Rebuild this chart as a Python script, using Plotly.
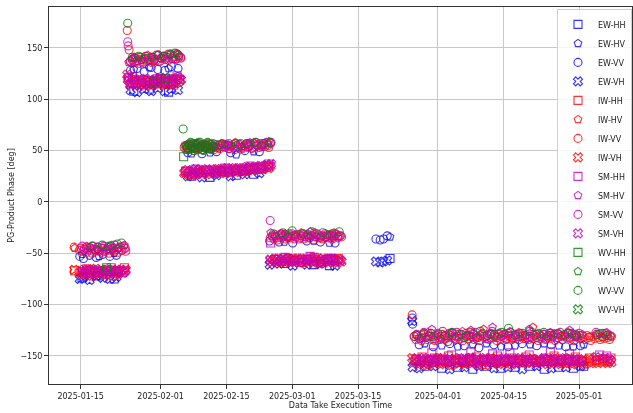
import numpy as np
import pandas as pd
import plotly.graph_objects as go

# Acquisition times are given as fractional day-of-year in 2025.
# Each dual-pol data take yields a co-pol and a cross-pol phase value.

# ---------------- EW ----------------
EW_VVVH_T = [14.8, 15.6, 16.9, 18.3, 19.7, 21.2, 22.6,
             25.6, 27.0, 28.5, 30.0, 31.4, 32.9, 34.3, 35.7,
             37.8, 40.8, 43.9, 46.9, 49.9, 53.0,
             55.2, 57.2, 60.1, 63.1, 66.0, 69.1,
             77.8, 78.7, 79.4, 80.2,
             85.5, 85.6, 87.0, 90.0, 93.5, 96.6, 99.7, 102.9, 105.9, 108.9, 112.0, 115.1, 118.2, 121.3]
EW_VV = [-53, -55, -52, -54, -51, -53, -52,
         128, 130, 127, 131, 129, 128, 132, 130,
         48, 47, 49, 48, 50, 49,
         -38, -39, -40, -38, -39, -40,
         -36, -37, -36, -33,
         -113, -119, -139, -141, -138, -140, -142, -139, -141, -138, -140, -139, -141, -140]
EW_VH = [-75, -73, -76, -72, -74, -75, -73,
         109, 107, 110, 108, 111, 108, 110, 109,
         25, 24, 26, 25, 27, 28,
         -61, -60, -62, -61, -60, -62,
         -58, -59, -58, -57,
         -116, -161, -162, -160, -163, -161, -160, -162, -161, -163, -160, -162, -161, -160]

EW_HHHV_T = [15.3, 18.9, 22.1,
             26.3, 29.6, 33.7,
             38.6, 42.5, 48.1, 51.8,
             58.3, 64.6, 67.9,
             80.8,
             88.2, 91.8, 95.2, 98.4, 101.3, 104.4, 107.4, 110.6, 113.6, 116.7, 119.8, 122.0]
EW_HH = [-74, -72, -75,
         108, 110, 107,
         25, 24, 26, 27,
         -60, -61, -62,
         -55,
         -160, -162, -161, -163, -160, -162, -161, -160, -163, -161, -162, -160]
EW_HV = [-51, -53, -50,
         129, 131, 130,
         47, 48, 46, 49,
         -39, -38, -40,
         -34,
         -138, -140, -141, -139, -138, -141, -140, -139, -138, -140, -141, -139]

# ---------------- IW ----------------
IW_VVVH_T = [
    # January campaign
    13.6, 14.7, 15.0, 15.5, 15.8, 16.3, 16.6, 17.1, 17.4, 17.9,
    18.2, 18.7, 19.0, 19.5, 19.8, 20.3, 20.6, 21.1, 21.4, 21.9,
    22.2, 22.7, 23.0, 23.5, 23.8, 24.3, 24.6,
    # late January / early February
    24.9, 25.3, 25.6, 26.0, 26.4, 26.7, 27.1, 27.5, 27.8, 28.2,
    28.6, 28.9, 29.3, 29.7, 30.0, 30.4, 30.8, 31.1, 31.5, 31.9,
    32.2, 32.6, 33.0, 33.3, 33.7, 34.1, 34.4, 34.8, 35.2, 35.5,
    35.9, 36.3,
    # February
    37.0, 37.4, 37.8, 38.2, 38.6, 39.0, 39.4, 39.8, 40.2, 40.6,
    41.0, 41.4, 41.8, 42.2, 42.6, 43.0, 43.4, 43.8, 44.2, 44.6,
    45.0, 45.4, 45.8, 46.2, 46.6, 47.0, 47.4, 47.8, 48.2, 48.6,
    49.0, 49.4, 49.8, 50.2, 50.6, 51.0, 51.4, 51.8, 52.2, 52.6,
    53.0, 53.4, 53.8, 54.2, 54.6, 55.0, 55.4,
    # late February / March
    55.3, 55.7, 56.1, 56.5, 56.9, 57.3, 57.7, 58.1, 58.5, 58.9,
    59.3, 59.7, 60.1, 60.5, 60.9, 61.3, 61.7, 62.1, 62.5, 62.9,
    63.3, 63.7, 64.1, 64.5, 64.9, 65.3, 65.7, 66.1, 66.5, 66.9,
    67.3, 67.7, 68.1, 68.5, 68.9, 69.3, 69.7, 70.1, 70.5,
    # late March - May
    85.5, 85.9, 86.3, 86.7, 87.1, 87.5, 87.9, 88.3, 88.7, 89.1,
    89.5, 89.9, 90.3, 90.7, 91.1, 91.5, 91.9, 92.3, 92.7, 93.1,
    93.5, 93.9, 94.3, 94.7, 95.1, 95.5, 95.9, 96.3, 96.7, 97.1,
    97.5, 97.9, 98.3, 98.7, 99.1, 99.5, 99.9, 100.3, 100.7, 101.1,
    101.5, 101.9, 102.3, 102.7, 103.1, 103.5, 103.9, 104.3, 104.7, 105.1,
    105.5, 105.9, 106.3, 106.7, 107.1, 107.5, 107.9, 108.3, 108.7, 109.1,
    109.5, 109.9, 110.3, 110.7, 111.1, 111.5, 111.9, 112.3, 112.7, 113.1,
    113.5, 113.9, 114.3, 114.7, 115.1, 115.5, 115.9, 116.3, 116.7, 117.1,
    117.5, 117.9, 118.3, 118.7, 119.1, 119.5, 119.9, 120.3, 120.7, 121.1,
    121.5, 121.9, 122.3, 122.7, 123.1, 123.5, 123.9, 124.3, 124.7, 125.1,
    125.5, 125.9, 126.3, 126.7, 127.1, 127.5, 127.9]
IW_VV = [
    -44, -47, -45, -48, -46, -49, -45, -47, -50, -46,
    -48, -44, -47, -49, -45, -48, -46, -50, -47, -45,
    -48, -46, -49, -44, -47, -45, -48,
    167, 148, 137, 139, 136, 140, 138, 135, 141, 137,
    139, 142, 138, 140, 136, 141, 139, 138, 143, 137,
    140, 142, 139, 141, 138, 143, 140, 142, 139, 144,
    141, 140,
    53, 51, 55, 52, 54, 50, 53, 56, 52, 54,
    51, 55, 53, 52, 56, 54, 51, 53, 55, 52,
    54, 56, 53, 55, 52, 54, 56, 51, 55, 53,
    57, 52, 54, 56, 53, 55, 52, 57, 54, 56,
    53, 55, 57, 54, 56, 53, 57,
    -35, -33, -36, -34, -37, -32, -35, -33, -36, -34,
    -31, -35, -33, -36, -34, -32, -35, -33, -36, -34,
    -32, -35, -33, -37, -34, -31, -35, -33, -36, -34,
    -32, -35, -33, -36, -34, -32, -35, -33, -34,
    -110, -131, -134, -130, -133, -135, -129, -132, -134, -131,
    -128, -133, -135, -130, -132, -134, -129, -131, -133, -136,
    -130, -132, -128, -134, -131, -133, -129, -135, -132, -130,
    -133, -127, -131, -134, -130, -132, -135, -129, -131, -133,
    -130, -134, -128, -132, -131, -135, -129, -133, -130, -132,
    -134, -128, -131, -133, -130, -132, -129, -134, -131, -133,
    -130, -132, -134, -131, -133, -130, -132, -135, -131, -133,
    -129, -134, -131, -128, -133, -130, -135, -132, -129, -131,
    -134, -130, -132, -128, -133, -131, -135, -129, -132, -130,
    -133, -131, -134, -130, -132, -135, -131, -133, -129, -132,
    -134, -131, -133, -130, -132, -134, -131]
IW_VH = [
    -66, -69, -67, -71, -68, -66, -70, -67, -72, -68,
    -65, -69, -67, -70, -68, -71, -66, -69, -67, -72,
    -68, -66, -70, -67, -69, -68, -66,
    124, 118, 114, 117, 120, 115, 118, 113, 116, 119,
    114, 117, 115, 118, 113, 116, 119, 117, 115, 120,
    116, 118, 114, 119, 117, 115, 120, 116, 118, 121,
    117, 119,
    28, 30, 27, 29, 26, 30, 28, 27, 31, 29,
    28, 30, 27, 31, 29, 30, 28, 32, 30, 31,
    29, 31, 28, 32, 30, 29, 31, 33, 30, 32,
    31, 29, 33, 31, 32, 34, 31, 33, 32, 34,
    33, 35, 32, 34, 36, 33, 35,
    -57, -59, -56, -58, -55, -60, -57, -56, -59, -57,
    -55, -58, -56, -59, -57, -55, -58, -56, -59, -57,
    -56, -58, -55, -59, -57, -56, -60, -57, -55, -58,
    -56, -59, -57, -55, -58, -56, -59, -57, -58,
    -152, -156, -154, -158, -155, -153, -157, -155, -159, -154,
    -156, -153, -157, -155, -152, -158, -156, -154, -157, -155,
    -153, -159, -156, -154, -155, -157, -153, -156, -158, -154,
    -155, -152, -157, -156, -154, -158, -155, -153, -156, -159,
    -154, -156, -152, -157, -155, -153, -158, -156, -154, -157,
    -155, -153, -156, -158, -154, -155, -157, -153, -156, -154,
    -155, -157, -154, -156, -153, -155, -157, -154, -156, -155,
    -153, -156, -158, -154, -157, -155, -152, -156, -154, -158,
    -155, -157, -153, -156, -154, -158, -155, -153, -157, -155,
    -156, -154, -158, -155, -153, -157, -156, -154, -155, -157,
    -154, -156, -153, -155, -157, -154, -156]

IW_HHHV_T = [13.7, 16.3, 18.5, 20.8, 23.0, 24.3,
             25.2, 26.5, 27.9, 29.3, 30.6, 32.0, 33.4, 34.8, 36.0,
             37.3, 38.8, 40.1, 41.6, 43.6, 45.0, 46.4, 47.9, 49.3, 50.7, 52.0, 53.5, 54.9,
             56.3, 57.7, 59.1, 60.5, 61.9, 63.3, 64.7, 66.1, 67.5, 68.9, 69.8,
             86.3, 87.6, 88.9, 90.3, 91.7, 93.2, 94.7, 96.2, 97.7, 99.2,
             100.7, 102.2, 103.7, 105.2, 106.7, 108.2, 109.7, 111.2, 112.7, 114.2,
             115.7, 117.2, 118.7, 120.2, 121.7, 123.2, 124.7, 126.0, 127.1, 127.8]
IW_HH = [-67, -65, -69, -66, -68, -64,
         121, 119, 116, 118, 115, 120, 117, 114, 119,
         30, 27, 29, 31, 28, 30, 29, 31, 30, 32, 33, 32, 34,
         -56, -58, -55, -57, -59, -56, -54, -58, -56, -57, -55,
         -153, -151, -155, -152, -154, -150, -153, -156, -152, -151,
         -154, -153, -150, -155, -152, -154, -151, -153, -155, -152,
         -150, -154, -153, -151, -155, -152, -154, -153, -155, -152]
IW_HV = [-45, -43, -46, -44, -45, -42,
         136, 141, 138, 143, 137, 140, 144, 139, 142,
         55, 57, 53, 56, 54, 57, 55, 58, 54, 56, 57, 55, 57,
         -33, -31, -34, -32, -30, -33, -31, -34, -32, -30, -33,
         -129, -132, -127, -130, -133, -128, -131, -126, -130, -132,
         -124, -129, -131, -128, -133, -127, -130, -122, -129, -131,
         -128, -130, -127, -132, -129, -131, -130, -132, -129, -131]

# ---------------- SM ----------------
SM_VVVH_T = [
    15.3, 15.7, 16.2, 16.6, 17.1, 17.6, 18.0, 18.5, 19.0, 19.4,
    19.9, 20.4, 20.8, 21.3, 21.8, 22.2, 22.7, 23.2, 23.6, 24.1,
    24.5,
    25.0, 25.1, 25.5, 26.0, 26.5, 26.9, 27.4, 27.9, 28.3, 28.8,
    29.3, 29.7, 30.2, 30.7, 31.1, 31.6, 32.1, 32.5, 33.0, 33.5,
    33.9, 34.4, 34.9, 35.3, 35.8, 36.3,
    37.2, 37.7, 38.1, 38.6, 39.1, 39.5, 40.0, 40.5, 40.9, 41.4,
    41.9, 42.3, 42.8, 43.3, 43.7, 44.2, 44.7, 45.1, 45.6, 46.1,
    46.5, 47.0, 47.5, 47.9, 48.4, 48.9, 49.3, 49.8, 50.3, 50.7,
    51.2, 51.7, 52.1, 52.6, 53.1, 53.5, 54.0, 54.5, 54.9, 55.5,
    55.3, 55.8, 56.3, 56.7, 57.2, 57.7, 58.1, 58.6, 59.1, 59.5,
    60.0, 60.5, 60.9, 61.4, 61.9, 62.3, 62.8, 63.3, 63.7, 64.2,
    64.7, 65.1, 65.6, 66.1, 66.5, 67.0, 67.5, 67.9, 68.4, 68.9,
    69.3, 69.8, 70.3,
    86.0, 86.5, 87.0, 87.5, 88.0, 88.5, 89.0, 89.5, 90.0, 90.5,
    91.0, 91.5, 92.0, 92.5, 93.0, 93.5, 94.0, 94.5, 95.0, 95.5,
    96.0, 96.5, 97.0, 97.5, 98.0, 98.5, 99.0, 99.5, 100.0, 100.5,
    101.0, 101.5, 102.0, 102.5, 103.0, 103.5, 104.0, 104.5, 105.0, 105.5,
    106.0, 106.5, 107.0, 107.5, 108.0, 108.5, 109.0, 109.5, 110.0, 110.5,
    111.0, 111.5, 112.0, 112.5, 113.0, 113.5, 114.0, 114.5, 115.0, 115.5,
    116.0, 116.5, 117.0, 117.5, 118.0, 118.5, 119.0, 119.5, 120.0, 120.5,
    121.0, 121.5, 124.6, 126.6, 127.6]
SM_VV = [
    -43, -46, -44, -47, -45, -43, -46, -44, -48, -45,
    -43, -47, -44, -46, -45, -42, -46, -44, -47, -43,
    -45,
    156, 152, 137, 138, 140, 137, 141, 139, 136, 142,
    140, 138, 141, 139, 143, 137, 140, 142, 139, 141,
    144, 140, 142, 139, 143, 141,
    55, 53, 56, 54, 52, 55, 57, 54, 56, 53,
    55, 57, 52, 54, 56, 53, 55, 57, 54, 56,
    52, 55, 53, 57, 54, 56, 53, 55, 57, 54,
    56, 53, 58, 55, 57, 54, 56, 58, 55, 58,
    -18, -34, -32, -35, -33, -31, -34, -32, -35, -33,
    -31, -34, -32, -36, -33, -31, -34, -32, -35, -33,
    -30, -34, -32, -35, -33, -31, -34, -32, -35, -33,
    -31, -34, -33,
    -131, -129, -133, -130, -127, -132, -130, -128, -131, -133,
    -129, -131, -126, -130, -132, -128, -130, -133, -127, -131,
    -129, -132, -128, -130, -131, -129, -127, -132, -130, -128,
    -131, -133, -129, -126, -130, -132, -128, -131, -129, -133,
    -130, -127, -132, -129, -131, -128, -130, -133, -129, -131,
    -127, -130, -132, -128, -131, -129, -133, -130, -128, -131,
    -129, -132, -127, -130, -131, -128, -132, -129, -130, -131,
    -128, -130, -127, -128, -130]
SM_VH = [
    -68, -66, -70, -67, -69, -66, -68, -67, -70, -66,
    -69, -67, -68, -70, -66, -69, -67, -68, -66, -69,
    -67,
    119, 121, 115, 116, 118, 115, 119, 117, 114, 120,
    116, 118, 115, 119, 117, 120, 116, 118, 121, 117,
    119, 116, 120, 118, 121, 119,
    29, 31, 28, 30, 27, 32, 29, 31, 28, 30,
    32, 29, 31, 30, 28, 32, 30, 31, 29, 33,
    31, 30, 32, 29, 33, 31, 32, 30, 34, 32,
    33, 31, 34, 32, 35, 33, 34, 36, 35, 37,
    -56, -58, -55, -57, -56, -58, -55, -57, -56, -58,
    -55, -57, -56, -59, -55, -57, -56, -58, -55, -57,
    -56, -58, -55, -57, -59, -56, -58, -55, -57, -56,
    -58, -56, -57,
    -155, -153, -156, -154, -152, -155, -157, -153, -154, -156,
    -153, -155, -152, -156, -154, -153, -155, -157, -154, -152,
    -155, -153, -156, -154, -152, -155, -157, -153, -154, -156,
    -152, -155, -153, -157, -154, -156, -153, -155, -152, -154,
    -156, -153, -155, -157, -154, -152, -155, -153, -156, -154,
    -153, -155, -157, -154, -156, -152, -155, -153, -154, -156,
    -155, -153, -156, -154, -152, -155, -153, -156, -154, -155,
    -153, -155, -151, -152, -154]

SM_HHHV_T = [17.0, 21.5,
             26.0, 31.3, 35.5,
             39.5, 45.7, 51.0, 55.0,
             55.4, 58.5, 63.8, 68.3,
             89.7, 93.9, 98.0, 102.6, 106.3, 110.4, 114.9, 119.0, 125.4, 126.9]
SM_HH = [-66, -64,
         122, 120, 123,
         32, 33, 35, 37,
         -40, -54, -53, -55,
         -147, -149, -146, -148, -147, -149, -146, -148, -149, -150]
SM_HV = [-44, -42,
         140, 143, 145,
         57, 56, 58, 59,
         -30, -31, -29, -32,
         -124, -127, -125, -122, -126, -124, -127, -125, -128, -127]

# ---------------- WV ----------------
WV_VV_T = [17.4, 19.6, 21.1, 22.8, 23.7,
           25.0, 26.0, 27.3, 28.6, 30.1, 31.5, 32.8, 34.2, 35.0, 35.7,
           36.8, 37.5, 37.6, 37.7, 37.9, 38.0, 38.1, 38.3, 38.4, 38.5,
           38.7, 38.8, 38.9, 39.1, 39.2, 39.3, 39.5, 39.6, 39.7, 39.9,
           40.0, 40.1, 40.3, 40.4, 40.5, 40.7, 40.8, 40.9, 41.1, 41.2,
           41.3, 41.5, 41.6, 41.7, 41.9, 42.0, 42.1, 42.3, 42.4, 42.5,
           42.7, 42.8, 42.9, 43.1, 43.3,
           44.5, 46.5, 48.5, 50.4, 52.3, 54.0, 55.3,
           56.0, 58.0, 60.0, 62.3, 64.2, 66.5, 68.4, 70.0,
           86.5, 88.0, 89.5, 91.0, 92.5, 94.0, 95.5, 97.0, 98.5, 100.0,
           101.5, 103.0, 104.5, 106.0, 107.5, 109.0, 110.5, 112.0, 113.5, 115.0,
           116.5, 118.0, 119.5, 120.5, 125.0, 126.0, 127.0]
WV_VV = [-43, -42, -43, -41, -40,
         174, 141, 142, 140, 141, 143, 142, 144, 145, 143,
         71, 55, 53, 52, 56, 51, 57, 55, 58, 53,
         52, 54, 56, 57, 50, 52, 55, 53, 55, 57,
         51, 58, 55, 58, 54, 53, 56, 51, 50, 54,
         56, 57, 52, 53, 55, 58, 55, 53, 56, 52,
         51, 54, 56, 57, 54,
         56, 57, 56, 57, 58, 57, 58,
         -31, -30, -28, -31, -29, -30, -31, -29,
         -130, -128, -131, -128, -130, -127, -129, -131, -128, -126,
         -130, -129, -127, -123, -130, -128, -126, -129, -127, -130,
         -128, -129, -128, -130, -129, -128, -130]

WV_HH_T = [20.5, 30.5, 33.0, 36.9]
WV_HH = [-64, 117, 120, 44]

# Axis ticks
X_TICKS = ["2025-01-15", "2025-02-01", "2025-02-15", "2025-03-01",
           "2025-03-15", "2025-04-01", "2025-04-15", "2025-05-01"]
Y_TICKS = [-150, -100, -50, 0, 50, 100, 150]


def to_dates(doy):
    return pd.Timestamp("2025-01-01") + pd.to_timedelta(np.asarray(doy, dtype=float) - 1.0, unit="D")


COLORS = {"EW": "#0000ff", "IW": "#ff0000", "SM": "#bf00bf", "WV": "#008000"}
SYMBOLS = {"HH": "square-open", "HV": "pentagon-open", "VV": "circle-open", "VH": "x-open"}

SERIES = [
    ("EW", "HH", EW_HHHV_T, EW_HH), ("EW", "HV", EW_HHHV_T, EW_HV),
    ("EW", "VV", EW_VVVH_T, EW_VV), ("EW", "VH", EW_VVVH_T, EW_VH),
    ("IW", "HH", IW_HHHV_T, IW_HH), ("IW", "HV", IW_HHHV_T, IW_HV),
    ("IW", "VV", IW_VVVH_T, IW_VV), ("IW", "VH", IW_VVVH_T, IW_VH),
    ("SM", "HH", SM_HHHV_T, SM_HH), ("SM", "HV", SM_HHHV_T, SM_HV),
    ("SM", "VV", SM_VVVH_T, SM_VV), ("SM", "VH", SM_VVVH_T, SM_VH),
    ("WV", "HH", WV_HH_T, WV_HH), ("WV", "HV", [], []),
    ("WV", "VV", WV_VV_T, WV_VV), ("WV", "VH", [], []),
]

fig = go.Figure()
for mode, pol, t, v in SERIES:
    c = COLORS[mode]
    if len(t):
        n = min(len(t), len(v))
        xs, ys = to_dates(t[:n]), v[:n]
    else:
        xs, ys = [None], [None]
    fig.add_trace(go.Scatter(
        x=xs, y=ys, mode="markers", name=f"{mode}-{pol}",
        opacity=0.8,
        marker=dict(symbol=SYMBOLS[pol], size=8, color=c, line=dict(width=1.1, color=c)),
    ))

axis_common = dict(
    showgrid=True, gridcolor="#c8c8c8", gridwidth=1, zeroline=False,
    showline=True, linecolor="#333333", linewidth=1, mirror=True,
    ticks="outside", ticklen=4, tickcolor="#333333",
    tickfont=dict(size=8, color="#222222"),
)

fig.update_layout(
    width=633, height=413,
    margin=dict(l=49, r=1, t=7, b=29),
    paper_bgcolor="white", plot_bgcolor="white",
    font=dict(family="DejaVu Sans", size=8, color="#222222"),
    showlegend=True,
    legend=dict(x=1, y=0.995, xanchor="right", yanchor="top",
                bgcolor="rgba(255,255,255,0.8)", bordercolor="#d0d0d0", borderwidth=1,
                font=dict(size=8), tracegroupgap=0),
    xaxis=dict(type="date", range=["2025-01-08 06:14", "2025-05-12 06:30"],
               tickvals=X_TICKS, ticktext=X_TICKS,
               title=dict(text="Data Take Execution Time", font=dict(size=8), standoff=2),
               **axis_common),
    yaxis=dict(range=[-177.3, 189.9], tickvals=Y_TICKS,
               title=dict(text="PG-Product Phase [deg]", font=dict(size=8), standoff=4),
               **axis_common),
)

fig.write_html("out.html")
